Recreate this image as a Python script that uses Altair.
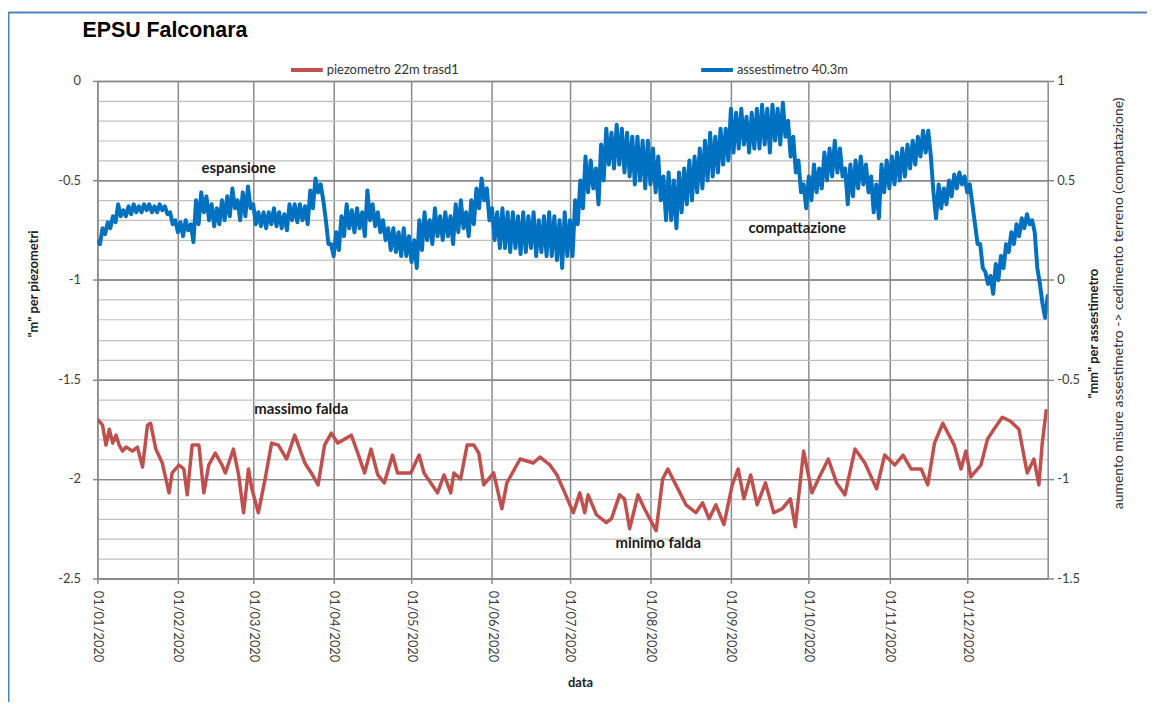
import altair as alt
import pandas as pd

# ---------------- data ----------------
START = pd.Timestamp("2020-01-01")

# assestimetro 40.3m (right axis, "mm"): the noisy trace is read as the upper
# and lower edge of its band, every 2 days from 01/01/2020
blue_day = list(range(0, 367, 2))
blue_hi = [
    0.20, 0.26, 0.29, 0.32, 0.38, 0.35, 0.37, 0.38, 0.37, 0.38,
    0.38, 0.37, 0.38, 0.37, 0.34, 0.30, 0.29, 0.30, 0.28, 0.40,
    0.44, 0.42, 0.38, 0.36, 0.40, 0.42, 0.46, 0.40, 0.44, 0.47,
    0.38, 0.34, 0.34, 0.34, 0.36, 0.34, 0.33, 0.38, 0.38, 0.38,
    0.37, 0.45, 0.51, 0.48, 0.30, 0.18, 0.24, 0.32, 0.38, 0.35,
    0.36, 0.34, 0.45, 0.38, 0.34, 0.30, 0.26, 0.26, 0.24, 0.26,
    0.22, 0.20, 0.30, 0.34, 0.30, 0.36, 0.32, 0.34, 0.32, 0.38,
    0.40, 0.34, 0.40, 0.46, 0.51, 0.46, 0.36, 0.34, 0.36, 0.34,
    0.34, 0.32, 0.34, 0.32, 0.34, 0.30, 0.32, 0.34, 0.32, 0.30,
    0.34, 0.30, 0.40, 0.50, 0.62, 0.60, 0.56, 0.68, 0.76, 0.74,
    0.78, 0.76, 0.74, 0.72, 0.72, 0.70, 0.70, 0.66, 0.62, 0.52,
    0.54, 0.50, 0.54, 0.56, 0.60, 0.62, 0.66, 0.70, 0.74, 0.72,
    0.76, 0.76, 0.86, 0.84, 0.86, 0.82, 0.84, 0.86, 0.88, 0.86,
    0.88, 0.86, 0.89, 0.80, 0.72, 0.60, 0.48, 0.52, 0.58, 0.56,
    0.64, 0.66, 0.70, 0.66, 0.56, 0.58, 0.60, 0.62, 0.58, 0.52,
    0.48, 0.58, 0.60, 0.62, 0.64, 0.66, 0.68, 0.70, 0.72, 0.75,
    0.75, 0.44, 0.48, 0.46, 0.50, 0.53, 0.54, 0.52, 0.48, 0.28,
    0.18, 0.04, 0.02, 0.08, 0.12, 0.18, 0.24, 0.28, 0.31, 0.33,
    0.30, 0.06, -0.12, -0.08,
]
blue_lo = [
    0.18, 0.23, 0.26, 0.29, 0.32, 0.32, 0.33, 0.34, 0.34, 0.35,
    0.34, 0.34, 0.35, 0.33, 0.28, 0.24, 0.22, 0.25, 0.19, 0.28,
    0.34, 0.30, 0.27, 0.28, 0.30, 0.32, 0.36, 0.30, 0.32, 0.36,
    0.28, 0.27, 0.26, 0.28, 0.27, 0.26, 0.25, 0.30, 0.29, 0.30,
    0.28, 0.36, 0.44, 0.40, 0.18, 0.12, 0.15, 0.22, 0.26, 0.24,
    0.26, 0.22, 0.30, 0.27, 0.24, 0.20, 0.15, 0.14, 0.12, 0.12,
    0.09, 0.06, 0.15, 0.20, 0.18, 0.22, 0.20, 0.22, 0.18, 0.24,
    0.26, 0.22, 0.28, 0.36, 0.40, 0.30, 0.20, 0.16, 0.16, 0.14,
    0.16, 0.13, 0.14, 0.16, 0.12, 0.14, 0.12, 0.12, 0.10, 0.06,
    0.12, 0.12, 0.28, 0.36, 0.44, 0.46, 0.38, 0.50, 0.58, 0.56,
    0.58, 0.54, 0.52, 0.48, 0.50, 0.46, 0.48, 0.44, 0.40, 0.30,
    0.30, 0.26, 0.34, 0.38, 0.40, 0.44, 0.46, 0.50, 0.52, 0.54,
    0.58, 0.60, 0.64, 0.66, 0.68, 0.64, 0.66, 0.66, 0.68, 0.64,
    0.70, 0.68, 0.72, 0.62, 0.54, 0.44, 0.36, 0.40, 0.44, 0.46,
    0.50, 0.52, 0.54, 0.52, 0.38, 0.42, 0.46, 0.48, 0.44, 0.34,
    0.31, 0.44, 0.46, 0.48, 0.50, 0.52, 0.56, 0.58, 0.62, 0.64,
    0.62, 0.31, 0.36, 0.38, 0.42, 0.46, 0.48, 0.44, 0.38, 0.18,
    0.06, -0.02, -0.07, 0.00, 0.06, 0.14, 0.18, 0.22, 0.26, 0.28,
    0.24, -0.02, -0.19, -0.14,
]

# piezometro 22m trasd1 (left axis, "m"), day offset from 01/01/2020
red_day = [
    0, 2, 3.3, 4.6, 5.9, 7.2, 8.4, 9.7, 11, 13.5, 15.4, 17.4, 19.3, 20.5, 22.5,
    25, 27.6, 28.8, 31.4, 33.3, 34.6, 36.5, 39.1, 41, 42.9, 45.4, 48, 49.3, 52.4,
    54.4, 56.3, 58.2, 59.5, 62, 64.6, 67.1, 69.7, 72.9, 76, 79.9, 82.4, 85, 87.5,
    90.1, 92.6, 97.8, 100.3, 102.9, 105.4, 108, 110.5, 113.7, 115.6, 120.7, 123.9,
    125.8, 131, 133.5, 136.1, 137.3, 139.9, 142.4, 145, 146.9, 148.8, 152.6, 155.8,
    157.7, 162.8, 167.9, 170.5, 174.3, 177, 180.7, 183.3, 185.8, 187.7, 189, 192.2,
    196, 198, 201.1, 203, 205, 208.2, 210.7, 215.2, 217.7, 219.7, 222.8, 226.7,
    230.5, 233.1, 235.6, 238.2, 241.3, 244.5, 246.8, 249, 251.6, 254.1, 257.3,
    260.5, 263.7, 266.9, 268.8, 272, 275.2, 277.7, 281.5, 284.7, 287.9, 291.8,
    295.6, 300.1, 303.2, 307.1, 310.3, 313.4, 317.3, 319.8, 322.4, 325.6, 330,
    332.6, 334.5, 336.4, 340.3, 342.8, 345.3, 348.5, 351.7, 354.9, 358.1, 360.7,
    362.6, 363.9, 365.5,
]
red_val = [
    -1.70, -1.73, -1.83, -1.75, -1.82, -1.78, -1.83, -1.86, -1.84, -1.86, -1.84,
    -1.94, -1.73, -1.72, -1.85, -1.92, -2.07, -1.97, -1.93, -1.95, -2.08, -1.83,
    -1.83, -2.07, -1.93, -1.87, -1.93, -1.97, -1.85, -1.98, -2.17, -1.95, -2.05,
    -2.17, -2.00, -1.82, -1.83, -1.90, -1.78, -1.92, -1.97, -2.03, -1.83, -1.77,
    -1.82, -1.78, -1.87, -1.97, -1.85, -1.98, -2.02, -1.88, -1.97, -1.97, -1.88,
    -1.97, -2.07, -1.98, -2.07, -1.97, -2.00, -1.83, -1.83, -1.87, -2.03, -1.97,
    -2.15, -2.02, -1.90, -1.92, -1.89, -1.93, -1.98, -2.09, -2.17, -2.07, -2.17,
    -2.08, -2.18, -2.22, -2.20, -2.08, -2.10, -2.25, -2.08, -2.15, -2.26, -2.00,
    -1.95, -2.03, -2.13, -2.17, -2.12, -2.20, -2.13, -2.23, -2.03, -1.95, -2.10,
    -1.98, -2.13, -2.02, -2.17, -2.15, -2.10, -2.24, -1.86, -2.07, -2.00, -1.90,
    -2.02, -2.08, -1.85, -1.92, -2.05, -1.88, -1.93, -1.88, -1.95, -1.95, -2.03,
    -1.82, -1.72, -1.83, -1.95, -1.86, -1.99, -1.93, -1.80, -1.75, -1.69, -1.71,
    -1.75, -1.97, -1.90, -2.03, -1.82, -1.65,
]

RED_NAME = "piezometro 22m trasd1"
BLUE_NAME = "assestimetro 40.3m"

# annotations (text, day offset, left-axis value)
ann_text = ["espansione", "compattazione", "massimo falda", "minimo falda"]
ann_day = [54.4, 269.5, 78.5, 216]
ann_val = [-0.44, -0.74, -1.65, -2.32]


def iso(d):
    return (START + pd.to_timedelta(d, unit="D")).strftime("%Y-%m-%dT%H:%M:%S")


red_df = pd.DataFrame({"date": [iso(d) for d in red_day], "value": red_val, "serie": RED_NAME})

# the band is traced as the recorder draws it: top edge, then bottom edge, day by day
b_dates, b_vals = [], []
for d, hi, lo in zip(blue_day, blue_hi, blue_lo):
    b_dates += [iso(d), iso(d + 1)]
    b_vals += [hi, lo]
blue_df = pd.DataFrame({"date": b_dates, "value": b_vals, "serie": BLUE_NAME})

ann_df = pd.DataFrame({"date": [iso(d) for d in ann_day], "value": ann_val, "label": ann_text})

# ---------------- styling ----------------
FONT = "Lato"
GRID_MAJOR = "#8a8a8a"
GRID_MINOR = "#c0c0c0"
LABEL_COL = "#404040"
W, H = 957, 501

x_scale = alt.Scale(domain=[alt.DateTime(year=2020, month=1, date=1),
                            alt.DateTime(year=2021, month=1, date=1)])
left_scale = alt.Scale(domain=[-2.5, 0], nice=False, zero=False)
right_scale = alt.Scale(domain=[-1.5, 1], nice=False, zero=False)
color_scale = alt.Scale(domain=[RED_NAME, BLUE_NAME], range=["#C0504D", "#0070C0"])

major_test = "round(datum.value * 10) % 5 === 0"
left_ticks = [round(-0.1 * i, 1) for i in range(26)]

x_axis = alt.Axis(
    values=[alt.DateTime(year=2020, month=m, date=1) for m in range(1, 13)],
    tickCount=50,
    format="%d/%m/%Y", labelAngle=90, labelAlign="left", labelBaseline="middle",
    labelPadding=7, labelFont=FONT, labelFontSize=13, labelColor=LABEL_COL,
    labelOverlap=False, labelFlush=False,
    tickSize=5, tickColor=GRID_MAJOR, tickWidth=1.5,
    grid=True, gridColor=GRID_MAJOR, gridWidth=1.5,
    domainColor=GRID_MAJOR, domainWidth=1.5,
    title="data", titleFont=FONT, titleFontSize=13, titleFontWeight="bold",
    titleColor="#222", titleX=486, titleY=105, titleAlign="center", titleBaseline="middle",
)

left_axis = alt.Axis(
    orient="left", values=left_ticks, tickCount=100,
    labelExpr=f"{major_test} ? toString(datum.value) : ''",
    labelOverlap=False, labelFlush=False,
    labelFont=FONT, labelFontSize=13, labelColor=LABEL_COL, labelPadding=12,
    tickSize=5, tickColor=GRID_MAJOR, tickWidth=1.5,
    tickOpacity={"condition": {"test": major_test, "value": 1}, "value": 0},
    grid=True,
    gridColor={"condition": {"test": major_test, "value": GRID_MAJOR}, "value": GRID_MINOR},
    gridWidth={"condition": {"test": major_test, "value": 1.5}, "value": 1.2},
    domainColor=GRID_MAJOR, domainWidth=1.5,
    title='"m" per piezometri', titleFont=FONT, titleFontSize=13, titleFontWeight="bold",
    titleColor="#222", titleAngle=270, titleX=-64, titleY=204,
    titleAlign="center", titleBaseline="middle",
)

right_axis = alt.Axis(
    orient="right", values=[1, 0.5, 0, -0.5, -1, -1.5], tickCount=50,
    labelExpr="toString(datum.value)", labelOverlap=False, labelFlush=False,
    labelFont=FONT, labelFontSize=13, labelColor=LABEL_COL, labelPadding=3,
    tickSize=6, tickColor=GRID_MAJOR, tickWidth=1.5,
    grid=True, gridColor=GRID_MAJOR, gridWidth=1.5,
    domainColor=GRID_MAJOR, domainWidth=1.5,
    title='"mm" per assestimetro', titleFont=FONT, titleFontSize=13, titleFontWeight="bold",
    titleColor="#222", titleAngle=270, titleX=46, titleY=254,
    titleAlign="center", titleBaseline="middle",
)

legend = alt.Legend(
    orient="none", legendX=193, legendY=-29, direction="horizontal", title=None,
    symbolType="stroke", symbolStrokeWidth=4, symbolSize=1024,
    labelFont=FONT, labelFontSize=13, labelColor="#333", labelOffset=2,
    columnPadding=235, padding=0,
)

# ---------------- layers ----------------
red = alt.Chart(red_df).mark_line(strokeWidth=3.5, strokeJoin="round", clip=True).encode(
    x=alt.X("date:T", scale=x_scale, axis=x_axis),
    y=alt.Y("value:Q", scale=left_scale, axis=left_axis),
    color=alt.Color("serie:N", scale=color_scale, legend=legend),
)

ann = alt.Chart(ann_df).mark_text(
    font=FONT, fontSize=15, fontWeight="bold", color="#1a1a1a",
    align="center", baseline="middle",
).encode(
    x=alt.X("date:T", scale=x_scale),
    y=alt.Y("value:Q", scale=left_scale),
    text="label:N",
)

one = alt.Data(values=[{"k": 1}])

title_txt = alt.Chart(one).mark_text(
    text="EPSU Falconara", font="Liberation Sans", fontSize=21.5, fontWeight="bold",
    color="#000", align="left", baseline="middle",
).encode(x=alt.value(-15), y=alt.value(-50))

right_note = alt.Chart(one).mark_text(
    text="aumento misure assestimetro -> cedimento terreno (compattazione)",
    font=FONT, fontSize=14, color="#333", angle=270, align="center", baseline="middle",
).encode(x=alt.value(1029), y=alt.value(224))

frame = alt.Chart(one).mark_rect(filled=False, stroke="#4F81BD", strokeWidth=2).encode(
    x=alt.value(-89.5), x2=alt.value(1150), y=alt.value(-69), y2=alt.value(700),
)

left_group = alt.layer(frame, red, ann, title_txt, right_note)

blue = alt.Chart(blue_df).mark_line(strokeWidth=4, strokeJoin="round", clip=True).encode(
    x=alt.X("date:T", scale=x_scale),
    y=alt.Y("value:Q", scale=right_scale, axis=right_axis),
    color=alt.Color("serie:N", scale=color_scale, legend=legend),
)

chart = alt.layer(left_group, blue).resolve_scale(y="independent").properties(
    width=W, height=H,
    autosize=alt.AutoSizeParams(type="none"),
    padding={"left": 90, "top": 71, "right": 100, "bottom": 122},
    background="white",
).configure_view(strokeWidth=0)

chart.save("out.html", embed_options={"renderer": "svg", "actions": False})
